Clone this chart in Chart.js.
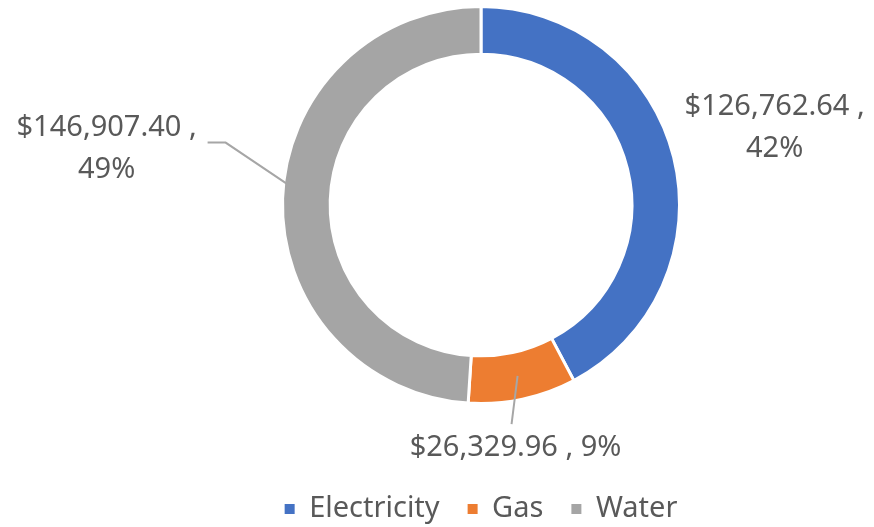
<!DOCTYPE html>
<html>
<head>
<meta charset="utf-8">
<script src="https://cdn.jsdelivr.net/npm/chart.js@4"></script>
<style>
    html, body { margin: 0; padding: 0; background: #ffffff; }
    #wrap { width: 874px; height: 527px; }
</style>
</head>
<body>
<div id="wrap"><canvas id="chart"></canvas></div>
<script>
    const categories = ["Electricity", "Gas", "Water"];
    const costs = [126762.64, 26329.96, 146907.40];
    const sliceColors = ["#4472C4", "#ED7D31", "#A5A5A5"];

    // label centre relative to the slice's outer mid point, plus leader line shape
    const labelLayout = [
        { dx: 101, dy: -29, twoLines: true, leader: null },
        { dx: -7, dy: 49, twoLines: false, leader: { start: [-4, -24], ring: 0.5, end: [0, 0] } },
        { dx: -176, dy: -50, twoLines: true, leader: { start: [101, -6], elbow: [119, -6], ring: 1, end: [4, -15] } }
    ];

    const textColor = "#595959";
    const fontFamily = "'Noto Sans', 'Open Sans', sans-serif";

    function formatMoney(value) {
        return "$" + value.toLocaleString("en-US", {
            minimumFractionDigits: 2,
            maximumFractionDigits: 2
        });
    }

    const dataLabels = {
        id: "dataLabels",
        afterDatasetsDraw: function (chart) {
            const ctx = chart.ctx;
            const meta = chart.getDatasetMeta(0);
            const total = costs.reduce(function (a, b) { return a + b; }, 0);

            ctx.save();
            ctx.font = "29px " + fontFamily;
            ctx.fillStyle = textColor;
            ctx.textAlign = "center";
            ctx.textBaseline = "middle";

            meta.data.forEach(function (arc, i) {
                const layout = labelLayout[i];
                const mid = (arc.startAngle + arc.endAngle) / 2;
                const ax = arc.x + Math.cos(mid) * arc.outerRadius;
                const ay = arc.y + Math.sin(mid) * arc.outerRadius;
                const cx = ax + layout.dx;
                const cy = ay + layout.dy;

                const money = formatMoney(costs[i]) + " ,";
                const pct = Math.round(costs[i] / total * 100) + "%";

                if (layout.leader) {
                    const l = layout.leader;
                    const r = arc.innerRadius + (arc.outerRadius - arc.innerRadius) * l.ring;
                    ctx.beginPath();
                    ctx.strokeStyle = "#A6A6A6";
                    ctx.lineWidth = 2;
                    ctx.moveTo(cx + l.start[0], cy + l.start[1]);
                    if (l.elbow) {
                        ctx.lineTo(cx + l.elbow[0], cy + l.elbow[1]);
                    }
                    ctx.lineTo(arc.x + Math.cos(mid) * r + l.end[0], arc.y + Math.sin(mid) * r + l.end[1]);
                    ctx.stroke();
                }

                if (layout.twoLines) {
                    ctx.fillText(money, cx, cy - 21);
                    ctx.fillText(pct, cx, cy + 21);
                } else {
                    ctx.fillText(money + " " + pct, cx, cy);
                }
            });
            ctx.restore();
        }
    };

    new Chart(document.getElementById("chart"), {
        type: "doughnut",
        data: {
            labels: categories,
            datasets: [{
                data: costs,
                backgroundColor: sliceColors,
                borderColor: "#ffffff",
                borderWidth: 3
            }]
        },
        options: {
            responsive: true,
            maintainAspectRatio: false,
            animation: false,
            events: [],
            cutout: "76%",
            layout: {
                padding: { top: 5, left: 88, right: 0, bottom: 0 }
            },
            plugins: {
                tooltip: { enabled: false },
                legend: {
                    display: true,
                    position: "bottom",
                    maxHeight: 122,
                    title: {
                        display: true,
                        text: " ",
                        font: { size: 10, lineHeight: 1.2 },
                        padding: 24.75
                    },
                    labels: {
                        boxWidth: 10,
                        boxHeight: 10,
                        padding: 28,
                        color: textColor,
                        font: { size: 29, family: fontFamily },
                        generateLabels: function (chart) {
                            const base = Chart.overrides.doughnut.plugins.legend.labels.generateLabels(chart);
                            return base.map(function (item) {
                                item.lineWidth = 0;
                                item.strokeStyle = "rgba(0,0,0,0)";
                                return item;
                            });
                        }
                    }
                }
            }
        },
        plugins: [dataLabels]
    });
</script>
</body>
</html>
